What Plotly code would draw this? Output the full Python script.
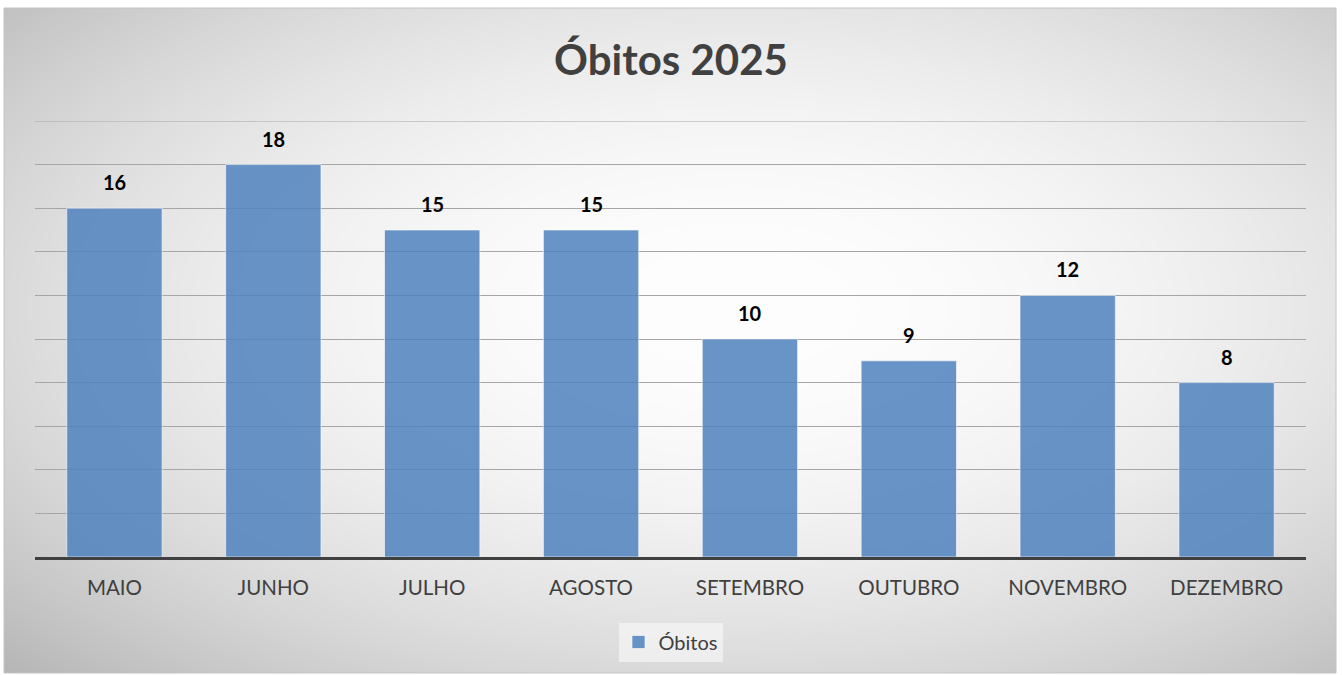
import base64, struct, zlib
import numpy as np
import plotly.graph_objects as go

# ---- data ----
months = ["MAIO", "JUNHO", "JULHO", "AGOSTO", "SETEMBRO", "OUTUBRO", "NOVEMBRO", "DEZEMBRO"]
obitos = [16, 18, 15, 15, 10, 9, 12, 8]
series_name = "Óbitos"
title_text = "Óbitos 2025"
y_max = 20
y_step = 2

# ---- radial gradient background (styling only) ----
def gradient_png(w, h, cx, cy):
    ys, xs = np.mgrid[0:h, 0:w].astype(float)
    d = np.sqrt(((xs - cx) / (w / 2)) ** 2 + ((ys - cy) / (h / 2)) ** 2) / np.sqrt(2)
    d = np.clip(d, 0, 1.2)
    v = 254 - 60 * d ** 2.0
    v = np.clip(v, 0, 255).astype(np.uint8)
    raw = b"".join(b"\x00" + v[r].tobytes() for r in range(h))
    def chunk(t, data):
        c = struct.pack(">I", len(data)) + t + data
        return c + struct.pack(">I", zlib.crc32(t + data) & 0xffffffff)
    png = b"\x89PNG\r\n\x1a\n"
    png += chunk(b"IHDR", struct.pack(">IIBBBBB", w, h, 8, 0, 0, 0, 0))
    png += chunk(b"IDAT", zlib.compress(raw, 9))
    png += chunk(b"IEND", b"")
    return "data:image/png;base64," + base64.b64encode(png).decode()

W, H = 1342, 675
L, R, T, B = 35, 36, 121, 118
pw, ph = W - L - R, H - T - B
box = dict(x0=4, x1=1336, y0=8, y1=673)
def px2x(px): return (px - L) / pw
def py2y(py): return (H - B - py) / ph

bg_w, bg_h = box["x1"] - box["x0"], box["y1"] - box["y0"]
img = gradient_png(bg_w, bg_h, 0.55 * bg_w, 0.45 * bg_h)

font_family = "Lato, 'Open Sans', sans-serif"
grid_color = "#A6A6A6"
bar_color = "rgba(79,129,189,0.85)"

fig = go.Figure()
fig.add_trace(go.Bar(
    x=months, y=obitos, name=series_name, showlegend=False,
    marker=dict(color=bar_color, line=dict(color="rgba(255,255,255,0.6)", width=1)),
    width=0.6,
))
# legend entry with a larger square key
fig.add_trace(go.Scatter(
    x=[None], y=[None], mode="markers", name=series_name, showlegend=True,
    marker=dict(symbol="square", size=13, color=bar_color,
                line=dict(color="rgba(255,255,255,0.6)", width=1)),
))

for m, v in zip(months, obitos):
    fig.add_annotation(x=m, y=v, text=f"<b>{v}</b>", showarrow=False,
                       yanchor="middle", yshift=26,
                       font=dict(family=font_family, size=20, color="#000000"))

fig.add_layout_image(dict(
    source=img, xref="paper", yref="paper",
    x=px2x(box["x0"]), y=py2y(box["y0"]),
    sizex=px2x(box["x1"]) - px2x(box["x0"]), sizey=py2y(box["y0"]) - py2y(box["y1"]),
    xanchor="left", yanchor="top", sizing="stretch", layer="below"))

fig.add_shape(type="rect", xref="paper", yref="paper",
              x0=px2x(box["x0"]), x1=px2x(box["x1"]), y0=py2y(box["y1"]), y1=py2y(box["y0"]),
              line=dict(color="#C4C4C4", width=1), fillcolor="rgba(0,0,0,0)", layer="below")

# top gridline at the axis maximum (plotly skips the edge gridline)
fig.add_shape(type="line", xref="paper", yref="y", x0=0, x1=1, y0=y_max, y1=y_max,
              line=dict(color=grid_color, width=1), layer="below")

fig.update_layout(
    width=W, height=H,
    margin=dict(l=L, r=R, t=T, b=B, pad=0),
    paper_bgcolor="white", plot_bgcolor="rgba(0,0,0,0)",
    title=dict(text=f"<b>{title_text}</b>", x=0.5, xref="container", xanchor="center",
               y=1 - 60 / H, yref="container", yanchor="middle",
               font=dict(family=font_family, size=42, color="#404040")),
    font=dict(family=font_family, color="#404040"),
    showlegend=True,
    legend=dict(orientation="h", x=0.5, xanchor="center", y=py2y(642), yanchor="middle",
                bgcolor="rgba(250,250,250,0.6)", font=dict(size=20, color="#404040"),
                itemwidth=30, itemsizing="trace"),
    xaxis=dict(showgrid=False, showline=True, linecolor="#404040", linewidth=3,
               ticks="", tickfont=dict(size=20.5, color="#404040"), ticklabelstandoff=10,
               fixedrange=True),
    yaxis=dict(range=[0, y_max], dtick=y_step, showgrid=True, gridcolor=grid_color, gridwidth=1,
               showticklabels=False, zeroline=False, showline=False, fixedrange=True),
    bargap=0.4,
)

fig.write_html("out.html", config={"displayModeBar": False},
               post_script="document.body.style.margin='0';document.body.style.padding='0';document.body.style.overflow='hidden';")
